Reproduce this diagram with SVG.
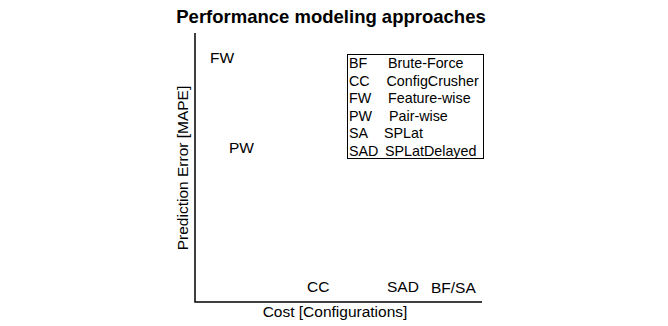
<svg xmlns="http://www.w3.org/2000/svg" width="668" height="326" viewBox="0 0 668 326">
<style>
text{font-family:"Liberation Sans",Arial,sans-serif;fill:#000}
.t{font-size:18.5px;font-weight:bold}
.l{font-size:15.5px}
.g{font-size:14.3px}
.ax{stroke:#000;stroke-width:1.5;fill:none}
</style>
<rect width="668" height="326" fill="#fff"/>
<text class="t" x="331" y="23" text-anchor="middle">Performance modeling approaches</text>
<g id="axes" class="ax">
<path d="M195,33 V302 H482"/>
</g>
<text class="l" x="0" y="0" text-anchor="middle" transform="translate(188,168) rotate(-90)">Prediction Error [MAPE]</text>
<text class="l" x="335" y="317" text-anchor="middle">Cost [Configurations]</text>
<g id="points">
<text class="l" x="210" y="63">FW</text>
<text class="l" x="229" y="153">PW</text>
<text class="l" x="307" y="292">CC</text>
<text class="l" x="387" y="292">SAD</text>
<text class="l" x="431" y="293">BF/SA</text>
</g>
<g id="legend">
<rect x="347.5" y="54.5" width="136" height="104" fill="#fff" stroke="#000" stroke-width="1"/>
<text class="g" x="349" y="68">BF</text><text class="g" x="388" y="68">Brute-Force</text>
<text class="g" x="349" y="85.5">CC</text><text class="g" x="386.5" y="85.5">ConfigCrusher</text>
<text class="g" x="349" y="103">FW</text><text class="g" x="388" y="103">Feature-wise</text>
<text class="g" x="349" y="120.5">PW</text><text class="g" x="389" y="120.5">Pair-wise</text>
<text class="g" x="349" y="138">SA</text><text class="g" x="384" y="138">SPLat</text>
<text class="g" x="349" y="155.5">SAD</text><text class="g" x="385" y="155.5">SPLatDelayed</text>
</g>
</svg>
